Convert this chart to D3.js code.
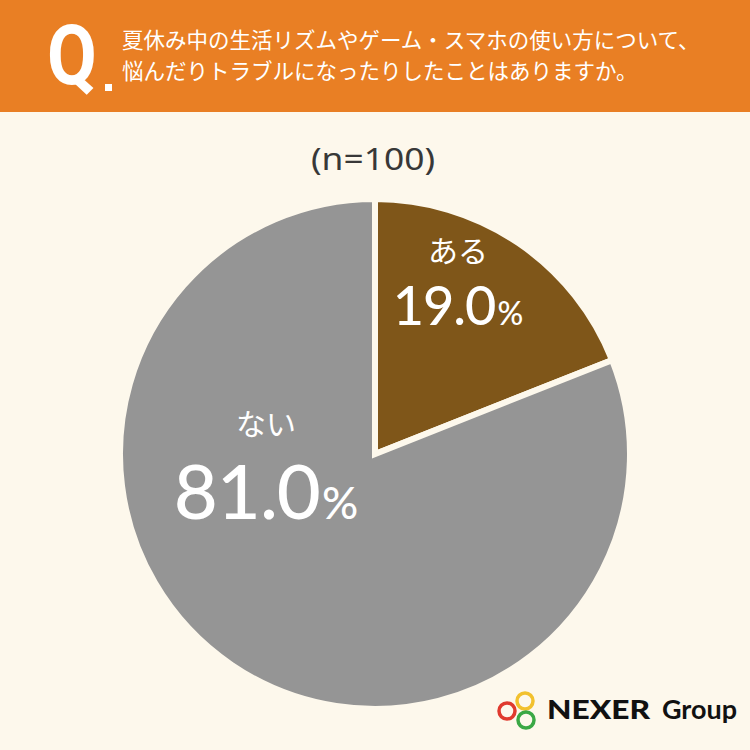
<!DOCTYPE html>
<html>
<head>
<meta charset="utf-8">
<script src="https://cdn.jsdelivr.net/npm/d3@7/dist/d3.min.js"></script>
<style>
  html, body { margin: 0; padding: 0; background: #fdf8ec; }
  svg { display: block; }
</style>
</head>
<body>
<div id="chart-area"></div>
<script>
// data
var categories = ["ある", "ない"];
var values = [19.0, 81.0];
var colors = ["#7f5619", "#959595"];
var titleLines = [
    "夏休み中の生活リズムやゲーム・スマホの使い方について、",
    "悩んだりトラブルになったりしたことはありますか。"
];
var sampleText = "(n=100)";

var W = 750, H = 750;
var cx = 375, cy = 454, radius = 255;
var jp = "'Noto Sans CJK JP', 'Noto Sans', sans-serif";

// where each label group sits (layout, not data): x, category baseline, number baseline
var labelPos = [[458, 262, 325], [266, 435, 519]];
var bigSize = [54, 76], pctSize = [32, 45];

var svg = d3.select("#chart-area").append("svg")
    .attr("width", W)
    .attr("height", H);

svg.append("rect")
    .attr("width", W).attr("height", H)
    .attr("fill", "#fdf8ec");

// header band
svg.append("rect")
    .attr("x", 0).attr("y", 0)
    .attr("width", W).attr("height", 112)
    .attr("fill", "#e97f24");

svg.append("text")
    .attr("transform", "translate(47,84) scale(0.86,1)")
    .attr("font-family", "Roboto, 'DejaVu Sans', sans-serif")
    .attr("font-weight", 700)
    .attr("font-size", 84)
    .attr("fill", "#fff")
    .text("Q");

svg.append("rect")
    .attr("x", 105).attr("y", 84)
    .attr("width", 7).attr("height", 7)
    .attr("fill", "#fff");

svg.selectAll(".title").data(titleLines).enter().append("text")
    .attr("class", "title")
    .attr("x", 122)
    .attr("y", (d, i) => 48 + i * 31)
    .attr("font-family", jp)
    .attr("font-size", 21.5)
    .attr("fill", "#fff")
    .text(d => d);

svg.append("text")
    .attr("x", 373).attr("y", 170)
    .attr("text-anchor", "middle")
    .attr("font-family", "'Noto Sans', " + jp)
    .attr("font-size", 31)
    .attr("fill", "#383838")
    .attr("textLength", 124)
    .attr("lengthAdjust", "spacingAndGlyphs")
    .text(sampleText);

// pie
var pie = d3.pie().sort(null).value(d => d);
var arc = d3.arc().innerRadius(0).outerRadius(radius);

var g = svg.append("g").attr("transform", "translate(" + cx + "," + cy + ")");

g.selectAll("path").data(pie(values)).enter().append("path")
    .attr("d", arc)
    .attr("fill", (d, i) => colors[i])
    .attr("stroke", "#fdf8ec")
    .attr("stroke-width", 6)
    .attr("stroke-linejoin", "miter");

// labels
var labels = svg.selectAll(".lbl").data(values).enter().append("g")
    .attr("class", "lbl");

labels.append("text")
    .attr("text-anchor", "middle")
    .attr("x", (d, i) => labelPos[i][0])
    .attr("y", (d, i) => labelPos[i][1])
    .attr("font-family", jp)
    .attr("font-size", 30)
    .attr("fill", "#fff")
    .text((d, i) => categories[i]);

var num = labels.append("text")
    .attr("text-anchor", "middle")
    .attr("x", (d, i) => labelPos[i][0])
    .attr("y", (d, i) => labelPos[i][2])
    .attr("font-family", "Lato, 'Noto Sans', sans-serif")
    .attr("font-weight", 500)
    .attr("fill", "#fff");

num.append("tspan")
    .attr("font-size", (d, i) => bigSize[i])
    .attr("letter-spacing", -1)
    .text(d => d3.format(".1f")(d));

num.append("tspan")
    .attr("font-size", (d, i) => pctSize[i])
    .attr("dx", 2)
    .text("%");

// logo
var logo = svg.append("g");
var rings = [[507, 711, "#e03a2e"], [525, 701, "#f2c12e"], [526, 720, "#3aa845"]];
logo.selectAll("circle").data(rings).enter().append("circle")
    .attr("cx", d => d[0]).attr("cy", d => d[1])
    .attr("r", 8)
    .attr("fill", "none")
    .attr("stroke", d => d[2])
    .attr("stroke-width", 3.5);

logo.append("text")
    .attr("x", 547).attr("y", 719)
    .attr("font-family", "Lato, 'Noto Sans', sans-serif")
    .attr("font-weight", 900).attr("font-size", 27)
    .attr("textLength", 103).attr("lengthAdjust", "spacingAndGlyphs")
    .attr("fill", "#111")
    .text("NEXER");
logo.append("text")
    .attr("x", 662).attr("y", 719)
    .attr("font-family", "Lato, 'Noto Sans', sans-serif")
    .attr("font-weight", 700).attr("font-size", 27)
    .attr("textLength", 75).attr("lengthAdjust", "spacingAndGlyphs")
    .attr("fill", "#111")
    .text("Group");
</script>
</body>
</html>
